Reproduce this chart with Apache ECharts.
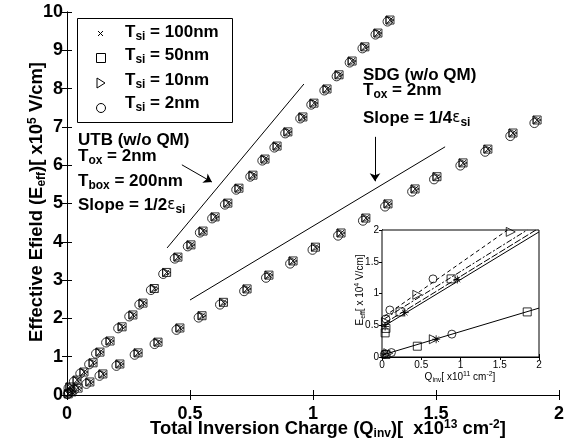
<!DOCTYPE html>
<html><head><meta charset="utf-8">
<script src="https://cdn.jsdelivr.net/npm/echarts@6/dist/echarts.min.js"></script>
<style>html,body{margin:0;padding:0;background:#fff}#c{width:570px;height:444px}</style>
</head><body><div id="c"></div><script>
// ---- main chart data (Q_inv [1e13 cm^-2], E_eff [1e5 V/cm]) ----
const utbQ  = [0.012,0.041,0.069,0.106,0.134,0.175,0.224,0.268,0.309,0.355,0.405,0.451,0.504,0.553,0.602,0.654,0.699,0.756,0.805,0.854,0.898,0.959,1.004,1.057,1.106,1.159,1.211,1.264,1.313];
const utbE  = [0.21,0.39,0.60,0.84,1.12,1.41,1.78,2.09,2.40,2.78,3.20,3.60,3.92,4.28,4.65,5.01,5.40,5.74,6.16,6.50,6.87,7.26,7.62,7.99,8.36,8.72,9.09,9.45,9.79];
const utbQ2 = [0.006,0.028,0.054,0.090,0.118,0.159,0.208,0.253,0.294,0.341,0.391,0.438,0.491,0.540,0.590,0.642,0.688,0.745,0.794,0.843,0.887,0.948,0.993,1.046,1.096,1.149,1.201,1.254,1.303];
const utbE2 = [0.18,0.35,0.56,0.80,1.08,1.37,1.74,2.05,2.36,2.74,3.16,3.56,3.88,4.24,4.61,4.97,5.36,5.70,6.12,6.46,6.83,7.22,7.58,7.95,8.32,8.68,9.05,9.41,9.75];
const sdgQ  = [0.005,0.020,0.045,0.093,0.146,0.215,0.289,0.370,0.459,0.549,0.636,0.732,0.821,0.919,1.010,1.114,1.215,1.305,1.415,1.504,1.610,1.711,1.813,1.911];
const sdgE  = [0.03,0.08,0.18,0.34,0.55,0.81,1.10,1.38,1.75,2.07,2.42,2.77,3.13,3.50,3.86,4.23,4.62,4.99,5.38,5.70,6.06,6.42,6.84,7.18];
const sdgQ2 = [0.003,0.008,0.030,0.079,0.132,0.201,0.275,0.356,0.445,0.535,0.622,0.720,0.809,0.907,0.998,1.102,1.203,1.293,1.403,1.492,1.599,1.700,1.802,1.900];
const sdgE2 = [0.02,0.06,0.14,0.29,0.50,0.76,1.05,1.33,1.70,2.02,2.36,2.71,3.06,3.43,3.79,4.16,4.55,4.92,5.31,5.63,5.99,6.35,6.76,7.10];
// reference slope lines and arrows
const utbSlopeLine = [[0.407,3.84],[0.963,8.12]];
const sdgSlopeLine = [[0.500,2.48],[1.537,6.48]];
const utbArrow = [[0.467,6.01],[0.589,5.56]];
const sdgArrow = [[1.252,6.74],[1.252,5.58]];
// ---- inset data (Q_inv [1e11 cm^-2], E_eff [1e4 V/cm]) ----
const in100 = [[0.04,0.48],[0.29,0.70],[0.96,1.22],[0.04,0.05],[0.69,0.28]];
const in50  = [[0.04,0.38],[0.05,0.45],[0.23,0.71],[0.88,1.23],[0.05,0.04],[0.45,0.17],[1.85,0.71]];
const in10  = [[0.05,0.55],[0.45,0.98],[1.64,1.97],[0.08,0.06],[0.66,0.28]];
const in2   = [[0.05,0.60],[0.10,0.74],[0.65,1.23],[0.03,0.04],[0.12,0.07],[0.89,0.36]];
const inLine100 = [[0.03,0.49],[2.0,1.97]];
const inLine50  = [[0.03,0.53],[2.0,2.03]];
const inLine10  = [[0.03,0.60],[1.85,2.0]];
const inLine2   = [[0.03,0.64],[1.60,2.0]];
const inLineLow = [[0.0,0.03],[2.0,0.77]];
const mainXTicks = [0,0.5,1,1.5,2];
const legendNames = ['100nm','50nm','10nm','2nm'];

const pairs = (xs, ys) => xs.map((x, i) => [x, ys[i]]);
const F = 'Liberation Sans, Arial, Helvetica, sans-serif';
const X_PATH = 'path://M0,0L10,10M0,10L10,0';
const STAR_PATH = 'path://M5,0L5,10M0,5L10,5M1.5,1.5L8.5,8.5M1.5,8.5L8.5,1.5';
const hollow = {color:'rgba(0,0,0,0)', borderColor:'#000', borderWidth:1};

const chart = echarts.init(document.getElementById('c'), null, {renderer:'canvas'});

function mainScatter(name, symbol, size, data, rot){
  return {name, type:'scatter', xAxisIndex:0, yAxisIndex:0, symbol, symbolSize:size,
    symbolRotate: rot||0, itemStyle:hollow, data, z:5, emphasis:{disabled:true}, silent:true};
}
function insetScatter(name, symbol, size, data, rot){
  return {name, type:'scatter', xAxisIndex:2, yAxisIndex:2, symbol, symbolSize:size,
    symbolRotate: rot||0, itemStyle:hollow, data, z:6, emphasis:{disabled:true}, silent:true};
}
function seg(data, xi, yi, type, z){
  return {type:'line', xAxisIndex:xi, yAxisIndex:yi, data, showSymbol:false, symbol:'none',
    lineStyle:{color:'#000', width:1, type:type||'solid'}, z:z||4, silent:true, animation:false};
}
function arrow(coords){
  return {type:'lines', coordinateSystem:'cartesian2d', xAxisIndex:0, yAxisIndex:0,
    symbol:['none','arrow'], symbolSize:8, lineStyle:{color:'#000', width:1, opacity:1},
    data:[{coords}], z:4, silent:true};
}

const richBig = {
  b:{fontFamily:F, fontWeight:'bold', fontSize:17, fill:'#000'},
  s:{fontFamily:F, fontWeight:'bold', fontSize:12, fill:'#000', padding:[10,0,0,0]},
  e:{fontFamily:'DejaVu Sans, sans-serif', fontWeight:'normal', fontSize:15, fill:'#000'}
};
const richAxis = {
  b:{fontFamily:F, fontWeight:'bold', fontSize:18.4, fill:'#000'},
  s:{fontFamily:F, fontWeight:'bold', fontSize:12, fill:'#000', padding:[10,0,0,0]},
  p:{fontFamily:F, fontWeight:'bold', fontSize:12, fill:'#000', padding:[0,0,9,0]}
};
const richSmall = {
  b:{fontFamily:F, fontSize:10, fill:'#000'},
  s:{fontFamily:F, fontSize:7, fill:'#000', padding:[6,0,0,0]},
  p:{fontFamily:F, fontSize:7, fill:'#000', padding:[0,0,5,0]}
};
function txt(x, y, text, rich, align, rot){
  return {type:'text', x, y, rotation:rot||0, silent:true, z:100,
    style:{legacy:false, text, rich, align:align||'left', verticalAlign:'middle', fill:'#000'}};
}
const stroke = {fill:'rgba(0,0,0,0)', stroke:'#000', lineWidth:1};
// legend drawn as graphic (box, markers, labels)
const legendGraphic = [
  {type:'rect', shape:{x:77.5, y:18.5, width:155, height:104}, style:{fill:'#fff', stroke:'#000', lineWidth:1}, z:90, silent:true},
  {type:'polyline', shape:{points:[[98,31],[103,36]]}, style:stroke, z:91, silent:true},
  {type:'polyline', shape:{points:[[98,36],[103,31]]}, style:stroke, z:91, silent:true},
  {type:'rect', shape:{x:96.5, y:53.5, width:9, height:9}, style:stroke, z:91, silent:true},
  {type:'polygon', shape:{points:[[97,78],[97,88],[105,83]]}, style:stroke, z:91, silent:true},
  {type:'circle', shape:{cx:101, cy:108, r:4.5}, style:stroke, z:91, silent:true}
].concat(legendNames.map((n, i) => txt(125, [32,55,80,103][i], '{b|T}{s|si}{b| = ' + n + '}', richBig)));

const axisCommon = {
  axisLine:{show:true, lineStyle:{color:'#000', width:1}},
  splitLine:{show:false}
};

const option = {
  animation:false,
  backgroundColor:'#fff',
  grid:[
    {left:67, right:11, top:12, bottom:49, show:false},
    {left:382, top:230, width:157, height:127, show:true, backgroundColor:'#fff', borderColor:'#000', borderWidth:1, z:3}
  ],
  xAxis:[
    Object.assign({gridIndex:0, type:'value', min:0, max:2, interval:0.5, position:'bottom',
      axisTick:{inside:true, length:5, lineStyle:{color:'#000'}},
      axisLabel:{fontFamily:F, fontWeight:'bold', fontSize:18, color:'#000', margin:10,
        customValues: mainXTicks}}, axisCommon),
    Object.assign({gridIndex:0, type:'value', min:0, max:2, interval:0.5, position:'top',
      axisTick:{inside:true, length:5, lineStyle:{color:'#000'}}, axisLabel:{show:false}}, axisCommon),
    Object.assign({gridIndex:1, type:'value', min:0, max:2, interval:0.5, position:'bottom',
      axisTick:{inside:true, length:3, lineStyle:{color:'#000'}},
      axisLabel:{fontFamily:F, fontSize:10, color:'#000', margin:3}}, axisCommon),
    Object.assign({gridIndex:1, type:'value', min:0, max:2, interval:0.5, position:'top',
      axisTick:{inside:true, length:3, lineStyle:{color:'#000'}}, axisLabel:{show:false}}, axisCommon)
  ],
  yAxis:[
    Object.assign({gridIndex:0, type:'value', min:0, max:10, interval:1, position:'left',
      axisTick:{inside:true, length:5, lineStyle:{color:'#000'}},
      axisLabel:{fontFamily:F, fontWeight:'bold', fontSize:18, color:'#000', margin:4}}, axisCommon),
    Object.assign({gridIndex:0, type:'value', min:0, max:10, interval:1, position:'right',
      axisTick:{inside:true, length:5, lineStyle:{color:'#000'}}, axisLabel:{show:false}}, axisCommon),
    Object.assign({gridIndex:1, type:'value', min:0, max:2, interval:0.5, position:'left',
      axisTick:{inside:true, length:3, lineStyle:{color:'#000'}},
      axisLabel:{fontFamily:F, fontSize:10, color:'#000', margin:3}}, axisCommon),
    Object.assign({gridIndex:1, type:'value', min:0, max:2, interval:0.5, position:'right',
      axisTick:{inside:true, length:3, lineStyle:{color:'#000'}}, axisLabel:{show:false}}, axisCommon)
  ],
  series:[
    mainScatter('100nm', X_PATH, 6, pairs(utbQ,utbE).concat(pairs(sdgQ,sdgE))),
    mainScatter('50nm', 'rect', 8, pairs(utbQ,utbE).concat(pairs(sdgQ,sdgE))),
    mainScatter('10nm', 'triangle', 8, pairs(utbQ,utbE).concat(pairs(sdgQ,sdgE)), -90),
    mainScatter('2nm', 'circle', 9, pairs(utbQ2,utbE2).concat(pairs(sdgQ2,sdgE2))),
    seg(utbSlopeLine, 0, 0), seg(sdgSlopeLine, 0, 0),
    arrow(utbArrow), arrow(sdgArrow),
    seg(inLine100, 2, 2, 'solid', 6), seg(inLine50, 2, 2, [7,2], 6),
    seg(inLine10, 2, 2, [6,2,2,2], 6), seg(inLine2, 2, 2, [4,3], 6), seg(inLineLow, 2, 2, 'solid', 6),
    insetScatter('i100', STAR_PATH, 8, in100),
    insetScatter('i50', 'rect', 8, in50),
    insetScatter('i10', 'triangle', 9, in10, -90),
    insetScatter('i2', 'circle', 8, in2)
  ],
  graphic: legendGraphic.concat([
    txt(37, 202, '{b|Effective Efield (E}{s|eff}{b|)[ x10}{p|5}{b| V/cm]}', richAxis, 'center', Math.PI/2),
    txt(328, 429, '{b|Total Inversion Charge (Q}{s|inv}{b|)[  x10}{p|13}{b| cm}{p|-2}{b|]}', richAxis, 'center'),
    txt(78, 140, '{b|UTB (w/o QM)}', richBig),
    txt(78, 156, '{b|T}{s|ox}{b| = 2nm}', richBig),
    txt(78, 181, '{b|T}{s|box}{b| = 200nm}', richBig),
    txt(78, 205, '{b|Slope = 1/2}{e|ε}{s|si}', richBig),
    txt(363, 75, '{b|SDG (w/o QM)}', richBig),
    txt(363, 90, '{b|T}{s|ox}{b| = 2nm}', richBig),
    txt(363, 118, '{b|Slope = 1/4}{e|ε}{s|si}', richBig),
    txt(460, 377, '{b|Q}{s|inv}{b|[ x10}{p|11}{b| cm}{p|-2}{b|]}', richSmall, 'center'),
    txt(360, 290, '{b|E}{s|eff}{b|[ x 10}{p|4}{b| V/cm]}', richSmall, 'center', Math.PI/2)
  ])
};
chart.setOption(option);
</script></body></html>
